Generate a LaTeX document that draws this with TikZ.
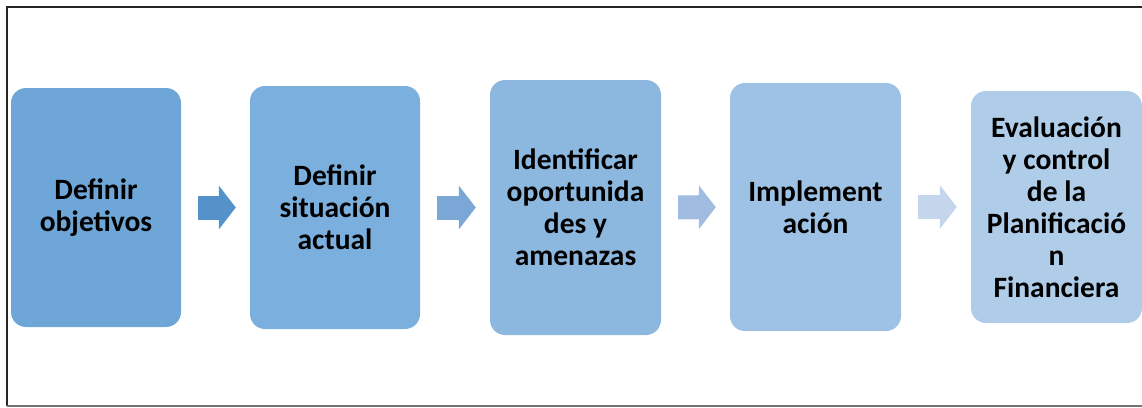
\documentclass[tikz,border=0pt]{standalone}
\usepackage{fontspec}
\setmainfont{Carlito}
\usetikzlibrary{arrows.meta}
\definecolor{etapaA}{HTML}{6DA6D7}
\definecolor{etapaB}{HTML}{7BAFDD}
\definecolor{etapaC}{HTML}{8CB8E0}
\definecolor{etapaD}{HTML}{9DC2E5}
\definecolor{etapaE}{HTML}{AFCDE8}
\definecolor{flechaA}{HTML}{5592CA}
\definecolor{flechaB}{HTML}{7BA7D6}
\definecolor{flechaC}{HTML}{A0BDE1}
\definecolor{flechaD}{HTML}{C4D5EC}
\begin{document}
\begin{tikzpicture}[x=1pt,y=-1pt,
		etapa/.style={rounded corners=15pt, minimum width=170pt, inner sep=0pt, align=center,
			font=\fontsize{29.5}{32}\selectfont\bfseries},
		flecha/.style={line width=24pt, -{Triangle[length=17pt,width=43pt]}, shorten <=17pt, shorten >=14pt}]
			\useasboundingbox (0,0) rectangle (1142,407);
			\draw[line width=2pt, black!85] (1142,7)--(7,7)--(7,406);
			\draw[line width=2pt, black!55] (7,406)--(1142,406);
			\node[etapa, fill=etapaA, minimum height=239pt] (O) at (96,207.5) {Definir\\objetivos};
			\node[etapa, fill=etapaB, minimum height=243pt] (S) at (335,207.5) {Definir\\situación\\actual};
			\node[etapa, fill=etapaC, minimum height=255pt, minimum width=171pt] (A) at (575.5,207.5) {Identificar\\oportunida\\des y\\amenazas};
			\node[etapa, fill=etapaD, minimum height=248pt, minimum width=171pt] (I) at (815.5,207) {Implement\\ación};
			\node[etapa, fill=etapaE, minimum height=232pt, minimum width=171pt] (E) at (1056.5,207) {Evaluación\\y control\\de la\\Planificació\\n\\Financiera};
			\draw[flecha, flechaA] (O)--(S);
			\draw[flecha, flechaB] (S)--(A);
			\draw[flecha, flechaC] (A)--(I);
			\draw[flecha, flechaD] (I)--(E);
		\end{tikzpicture}
\end{document}
